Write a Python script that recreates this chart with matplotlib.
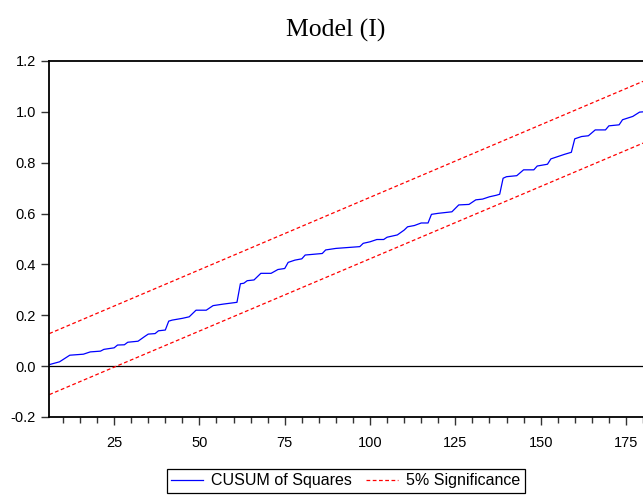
import matplotlib.pyplot as plt
from matplotlib.ticker import MultipleLocator
import numpy as np

obs = [6, 9, 12, 16, 18, 21, 22, 25, 26, 28, 29, 32, 34, 35, 37, 38, 40, 41, 42,
       45, 47, 49, 52, 54, 57, 61, 62, 63, 64, 66, 68, 71, 73, 75, 76, 78, 80, 81,
       86, 87, 90, 97, 98, 100, 102, 104, 105, 108, 110, 111, 113, 115, 117, 118,
       120, 124, 126, 129, 131, 133, 135, 137, 138, 139, 140, 143, 145, 148, 149,
       152, 153, 155, 157, 159, 160, 162, 164, 166, 169, 170, 173, 174, 177, 179, 180]
cusum_sq = [0.006, 0.017, 0.043, 0.047, 0.056, 0.059, 0.066, 0.072, 0.083, 0.084,
            0.094, 0.098, 0.117, 0.126, 0.128, 0.139, 0.142, 0.177, 0.181, 0.188,
            0.194, 0.220, 0.220, 0.238, 0.244, 0.251, 0.324, 0.326, 0.336, 0.339,
            0.365, 0.365, 0.380, 0.384, 0.408, 0.417, 0.422, 0.437, 0.443, 0.457,
            0.463, 0.470, 0.483, 0.489, 0.498, 0.498, 0.507, 0.516, 0.535, 0.548,
            0.553, 0.563, 0.563, 0.597, 0.601, 0.607, 0.634, 0.636, 0.654, 0.657,
            0.666, 0.672, 0.676, 0.739, 0.745, 0.749, 0.772, 0.772, 0.787, 0.794,
            0.815, 0.824, 0.833, 0.841, 0.894, 0.903, 0.906, 0.929, 0.929, 0.945,
            0.949, 0.969, 0.982, 0.999, 1.000]

# 5% significance bands (straight lines, end points)
band_obs = [6, 180]
upper = [0.128, 1.120]
lower = [-0.112, 0.877]

plt.rcParams['font.family'] = ['Liberation Sans', 'DejaVu Sans']

fig = plt.figure(figsize=(6.43, 4.96), dpi=100)
ax = fig.add_axes([49.3 / 643, 1 - 417 / 496, 1 - 49.3 / 643, (417 - 61) / 496])

ax.axhline(0, color='black', lw=0.9)
ax.plot(obs, cusum_sq, color='#0000ff', lw=0.9, label='CUSUM of Squares')
ax.plot(band_obs, upper, color='#ff0000', lw=0.9, ls=(0, (3, 2)),
        label='5% Significance')
ax.plot(band_obs, lower, color='#ff0000', lw=0.9, ls=(0, (3, 2)))

ax.set_xlim(6, 180)
ax.set_ylim(-0.2, 1.2)
ax.xaxis.set_major_locator(MultipleLocator(25))
ax.xaxis.set_minor_locator(MultipleLocator(5))
ax.yaxis.set_major_locator(MultipleLocator(0.2))
ax.yaxis.set_major_formatter(plt.FuncFormatter(lambda v, p: f"{v:.1f}"))
ax.tick_params(axis='both', which='major', length=6, width=1, labelsize=10.5,
               direction='out', color='#333333')
ax.tick_params(axis='x', which='minor', length=4, width=1, color='#333333')
ax.tick_params(axis='x', pad=8)
ax.spines['right'].set_visible(False)
for s in ['left', 'top', 'bottom']:
    ax.spines[s].set_linewidth(1.3)

fig.text(336 / 643, 1 - 30 / 496, 'Model (I)', ha='center', va='center',
         fontsize=18.5, family='Liberation Serif')

leg = fig.legend(loc='center', bbox_to_anchor=(346 / 643, 1 - 481 / 496), ncol=2,
                 fontsize=11.5, fancybox=False, edgecolor='black', framealpha=1,
                 handlelength=2.0, columnspacing=0.9, handletextpad=0.5,
                 borderpad=0.3, borderaxespad=0)
leg.get_frame().set_linewidth(0.9)

plt.savefig('out.png', dpi=100)
